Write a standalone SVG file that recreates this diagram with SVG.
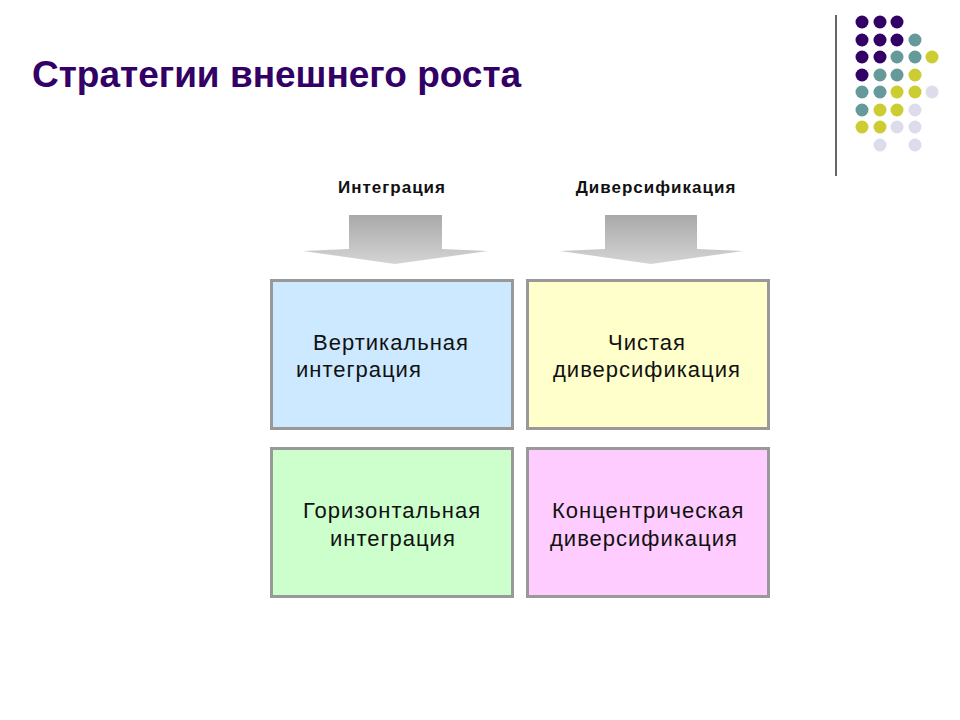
<svg xmlns="http://www.w3.org/2000/svg" width="960" height="720" viewBox="0 0 960 720">
<style>
.title{font-family:"Liberation Sans",Arial,sans-serif;font-weight:bold;font-size:37px;fill:#330066}
.hdr{font-family:"Liberation Sans",Arial,sans-serif;font-weight:bold;font-size:17px;letter-spacing:1px;fill:#111}
.lbl{font-family:"Liberation Sans",Arial,sans-serif;font-size:22px;letter-spacing:1px;fill:#111}
.box{stroke:#999;stroke-width:3}
.p{fill:#330066}.t{fill:#669999}.y{fill:#cccc33}.l{fill:#dcdcec}
</style>
<defs>
<linearGradient id="ag" x1="0" y1="0" x2="0" y2="1">
<stop offset="0" stop-color="#a9a9a9"/><stop offset="1" stop-color="#d4d4d4"/>
</linearGradient>
</defs>
<rect width="960" height="720" fill="#fff"/>
<g id="deco">
<line x1="836" y1="15" x2="836" y2="176" stroke="#666" stroke-width="2"/>
<circle class="p" cx="862" cy="22" r="6.5"/><circle class="p" cx="880" cy="22" r="6.5"/><circle class="p" cx="897" cy="22" r="6.5"/>
<circle class="p" cx="862" cy="40" r="6.5"/><circle class="p" cx="880" cy="40" r="6.5"/><circle class="p" cx="897" cy="40" r="6.5"/><circle class="t" cx="915" cy="40" r="6.5"/>
<circle class="p" cx="862" cy="57" r="6.5"/><circle class="p" cx="880" cy="57" r="6.5"/><circle class="t" cx="897" cy="57" r="6.5"/><circle class="t" cx="915" cy="57" r="6.5"/><circle class="y" cx="932" cy="57" r="6.5"/>
<circle class="p" cx="862" cy="75" r="6.5"/><circle class="t" cx="880" cy="75" r="6.5"/><circle class="t" cx="897" cy="75" r="6.5"/><circle class="y" cx="915" cy="75" r="6.5"/>
<circle class="t" cx="862" cy="92" r="6.5"/><circle class="t" cx="880" cy="92" r="6.5"/><circle class="y" cx="897" cy="92" r="6.5"/><circle class="y" cx="915" cy="92" r="6.5"/><circle class="l" cx="932" cy="92" r="6.5"/>
<circle class="t" cx="862" cy="110" r="6.5"/><circle class="y" cx="880" cy="110" r="6.5"/><circle class="y" cx="897" cy="110" r="6.5"/><circle class="l" cx="915" cy="110" r="6.5"/>
<circle class="y" cx="862" cy="127" r="6.5"/><circle class="y" cx="880" cy="127" r="6.5"/><circle class="l" cx="897" cy="127" r="6.5"/><circle class="l" cx="915" cy="127" r="6.5"/>
<circle class="l" cx="880" cy="145" r="6.5"/><circle class="l" cx="915" cy="145" r="6.5"/>
</g>
<text class="title" x="32" y="87">Стратегии внешнего роста</text>
<g id="head-int">
<text class="hdr" x="392" y="193" text-anchor="middle">Интеграция</text>
<path d="M349,215 H442 V249 L488,251 L395,264 L303,251 L349,249 Z" fill="url(#ag)"/>
</g>
<g id="head-div">
<text class="hdr" x="656" y="193" text-anchor="middle">Диверсификация</text>
<path d="M605,215 H697 V249 L743,251 L651,264 L560,251 L605,249 Z" fill="url(#ag)"/>
</g>
<g id="box-vert">
<rect class="box" x="271.5" y="280.5" width="241" height="148" fill="#cce9ff"/>
<text class="lbl" x="313" y="350">Вертикальная</text>
<text class="lbl" x="296" y="377">интеграция</text>
</g>
<g id="box-pure">
<rect class="box" x="527.5" y="280.5" width="241" height="148" fill="#ffffcc"/>
<text class="lbl" x="608" y="350">Чистая</text>
<text class="lbl" x="553" y="377">диверсификация</text>
</g>
<g id="box-horiz">
<rect class="box" x="271.5" y="448.5" width="241" height="148" fill="#ccffcc"/>
<text class="lbl" x="303" y="518">Горизонтальная</text>
<text class="lbl" x="330" y="546">интеграция</text>
</g>
<g id="box-conc">
<rect class="box" x="527.5" y="448.5" width="241" height="148" fill="#ffccff"/>
<text class="lbl" x="552" y="518">Концентрическая</text>
<text class="lbl" x="550" y="546">диверсификация</text>
</g>
<g id="connectors"></g>
</svg>
